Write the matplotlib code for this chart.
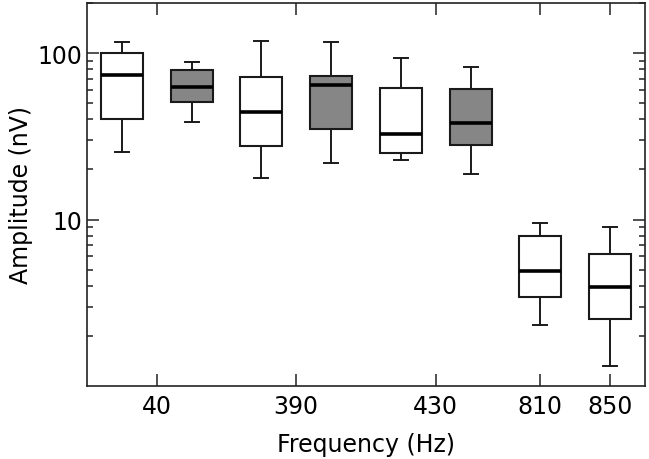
import matplotlib

matplotlib.use("Agg")
import matplotlib.pyplot as plt
from matplotlib.ticker import FixedLocator, FixedFormatter, LogLocator, NullFormatter

# box statistics (nV)
positions = [1, 2, 3, 4, 5, 6, 7, 8]
whisker_hi = [116, 88.7, 118.6, 117, 93.7, 82.8, 9.55, 9.0]
q3 = [100, 78.7, 72.1, 73.1, 61.7, 60.5, 7.94, 6.2]
medians = [73.8, 62.8, 44.1, 64.0, 32.5, 38.2, 4.9, 3.96]
q1 = [40.2, 51.1, 27.7, 35.0, 25.1, 27.9, 3.43, 2.54]
whisker_lo = [25.4, 38.5, 17.8, 21.9, 22.7, 18.7, 2.33, 1.32]
fills = ["white", "#868686", "white", "#868686", "white", "#868686", "white", "white"]

tick_positions = [1.5, 3.5, 5.5, 7, 8]
tick_labels = ["40", "390", "430", "810", "850"]

plt.rcParams["font.family"] = ["DejaVu Sans"]

fig = plt.figure(figsize=(6.49, 4.60), dpi=100)
ax = fig.add_axes([0.134, 0.1587, 0.8598, 0.8326])

stats = [
    {"whislo": lo, "q1": a, "med": m, "q3": b, "whishi": hi, "fliers": []}
    for lo, a, m, b, hi in zip(whisker_lo, q1, medians, q3, whisker_hi)
]
bp = ax.bxp(
    stats,
    positions=positions,
    widths=0.6,
    patch_artist=True,
    showfliers=False,
    capwidths=0.2,
    boxprops={"linewidth": 1.5, "edgecolor": "#1a1a1a"},
    whiskerprops={"linewidth": 1.4, "color": "#1a1a1a"},
    capprops={"linewidth": 1.4, "color": "#1a1a1a"},
    medianprops={"linewidth": 2.6, "color": "black"},
)
for patch, color in zip(bp["boxes"], fills):
    patch.set_facecolor(color)

ax.set_yscale("log")
ax.set_ylim(1, 200)
ax.set_xlim(0.5, 8.5)
ax.yaxis.set_major_locator(FixedLocator([10, 100]))
ax.yaxis.set_major_formatter(FixedFormatter(["10", "100"]))
ax.yaxis.set_minor_locator(LogLocator(base=10, subs=range(2, 10)))
ax.yaxis.set_minor_formatter(NullFormatter())
ax.set_xticks(tick_positions)
ax.set_xticklabels(tick_labels)

ax.tick_params(axis="both", which="major", direction="in", length=8.5, width=1.1,
               labelsize=17, top=True, right=True, color="#222222")
ax.tick_params(axis="y", which="minor", direction="in", length=4.5, width=1.1,
               right=True, color="#222222")
ax.tick_params(axis="x", which="major", pad=6)
for spine in ax.spines.values():
    spine.set_linewidth(1.2)
    spine.set_color("#222222")

ax.set_xlabel("Frequency (Hz)", fontsize=17, labelpad=10)
ax.set_ylabel("Amplitude (nV)", fontsize=17, labelpad=3)

fig.savefig("out.png", dpi=100)
plt.close(fig)
